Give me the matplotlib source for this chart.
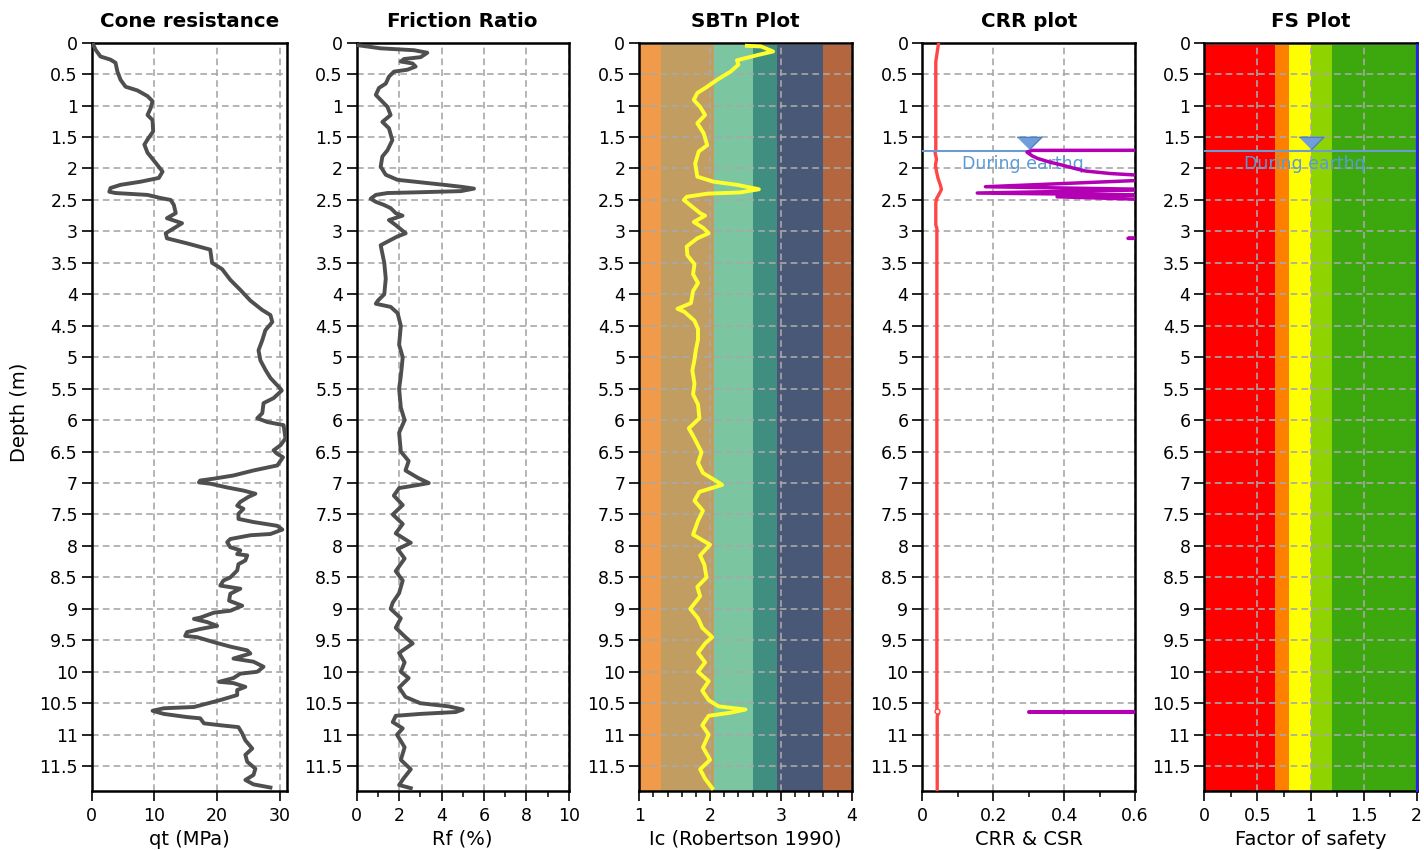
import numpy as np
import matplotlib
matplotlib.use('Agg')
import matplotlib.pyplot as plt
from matplotlib.ticker import MultipleLocator, FuncFormatter

# ---------------- data ----------------
qt_depth = [0.00, 0.11, 0.22, 0.27, 0.32, 0.46, 0.59, 0.70, 0.76, 0.85,
            0.93, 1.04, 1.15, 1.23, 1.41, 1.54, 1.62, 1.75, 1.91, 2.05,
            2.15, 2.21, 2.26, 2.31, 2.37, 2.39, 2.42, 2.47, 2.50, 2.58,
            2.71, 2.79, 2.87, 2.92, 3.03, 3.11, 3.19, 3.29, 3.50, 3.60,
            3.77, 3.93, 4.10, 4.25, 4.33, 4.44, 4.57, 4.73, 4.89, 5.05,
            5.20, 5.33, 5.49, 5.53, 5.65, 5.73, 5.89, 5.97, 6.03, 6.08,
            6.29, 6.40, 6.48, 6.53, 6.59, 6.72, 6.80, 6.88, 6.93, 6.96,
            6.99, 7.01, 7.07, 7.12, 7.17, 7.22, 7.30, 7.36, 7.41, 7.49,
            7.57, 7.62, 7.68, 7.74, 7.81, 7.83, 7.89, 7.94, 8.02, 8.07,
            8.13, 8.15, 8.23, 8.29, 8.39, 8.50, 8.55, 8.63, 8.68, 8.76,
            8.87, 8.95, 9.03, 9.06, 9.14, 9.16, 9.21, 9.27, 9.32, 9.37,
            9.43, 9.45, 9.53, 9.60, 9.66, 9.71, 9.79, 9.84, 9.92, 10.00,
            10.03, 10.10, 10.16, 10.18, 10.24, 10.29, 10.37, 10.45, 10.56, 10.58,
            10.62, 10.67, 10.72, 10.74, 10.82, 10.85, 10.88, 10.98, 11.09, 11.22,
            11.32, 11.43, 11.54, 11.64, 11.72, 11.79, 11.84]
qt_mpa = [0.1, 0.6, 1.4, 3.0, 3.8, 4.1, 4.6, 5.4, 7.3, 8.9,
          9.7, 9.4, 8.9, 9.7, 9.8, 8.9, 8.4, 8.9, 10.2, 11.3,
          10.7, 7.8, 4.6, 3.0, 2.8, 3.8, 8.9, 11.0, 12.6, 13.1,
          13.4, 12.0, 14.4, 13.6, 11.8, 12.0, 15.2, 18.9, 19.2, 20.8,
          22.1, 23.7, 25.3, 27.2, 28.5, 28.8, 27.7, 27.2, 26.6, 26.9,
          27.7, 28.5, 30.0, 30.3, 29.0, 27.4, 27.2, 26.4, 28.0, 30.6,
          30.9, 30.1, 29.0, 29.5, 30.5, 29.6, 25.8, 22.6, 19.5, 17.3,
          17.1, 18.9, 21.6, 24.2, 26.1, 25.0, 23.7, 23.2, 24.2, 23.4,
          23.4, 25.8, 29.6, 30.4, 28.5, 25.3, 22.1, 21.6, 22.1, 23.7,
          23.2, 24.8, 24.5, 23.4, 23.2, 22.1, 21.0, 20.5, 23.7, 22.1,
          21.9, 24.0, 22.1, 19.5, 17.3, 16.3, 18.4, 20.0, 17.3, 15.2,
          14.9, 16.8, 19.5, 22.1, 24.8, 25.3, 22.6, 25.8, 27.4, 26.4,
          23.7, 22.6, 20.3, 22.6, 24.5, 23.2, 23.2, 20.5, 16.3, 11.5,
          9.7, 11.5, 15.2, 17.3, 17.9, 20.5, 23.4, 24.0, 24.5, 25.6,
          24.5, 24.8, 26.1, 25.8, 24.5, 25.8, 28.5]

rf_depth = [0.04, 0.09, 0.12, 0.16, 0.23, 0.26, 0.30, 0.33, 0.38, 0.43,
            0.46, 0.54, 0.65, 0.72, 0.83, 0.91, 1.02, 1.15, 1.26, 1.36,
            1.55, 1.71, 1.81, 1.97, 2.10, 2.18, 2.22, 2.26, 2.29, 2.32,
            2.36, 2.38, 2.39, 2.42, 2.48, 2.53, 2.58, 2.63, 2.71, 2.75,
            2.82, 2.90, 3.03, 3.08, 3.22, 3.50, 3.75, 4.00, 4.10, 4.15,
            4.20, 4.30, 4.50, 4.80, 5.00, 5.30, 5.50, 5.80, 6.00, 6.20,
            6.50, 6.65, 6.80, 6.92, 7.00, 7.03, 7.08, 7.20, 7.35, 7.50,
            7.65, 7.80, 7.95, 8.05, 8.20, 8.40, 8.55, 8.75, 8.90, 9.00,
            9.15, 9.30, 9.45, 9.55, 9.70, 9.85, 10.00, 10.10, 10.25, 10.40,
            10.50, 10.55, 10.60, 10.64, 10.67, 10.70, 10.80, 10.90, 11.00, 11.20,
            11.40, 11.55, 11.70, 11.80, 11.85]
rf_pct = [0.05, 1.13, 2.70, 3.33, 3.02, 2.23, 2.08, 2.63, 2.78, 2.39,
          1.76, 1.52, 1.37, 1.05, 0.90, 1.13, 1.45, 1.60, 1.21, 1.52,
          1.68, 1.45, 1.21, 1.13, 1.37, 1.92, 3.02, 4.12, 4.91, 5.53,
          4.91, 2.70, 1.45, 0.90, 0.66, 0.90, 1.29, 1.60, 1.84, 2.16,
          1.52, 1.84, 2.31, 1.92, 1.13, 1.30, 1.37, 1.30, 1.00, 0.90,
          1.60, 1.93, 2.08, 2.00, 2.17, 2.08, 2.00, 2.08, 2.26, 2.00,
          2.08, 2.45, 2.30, 2.90, 3.40, 2.90, 2.00, 1.75, 2.17, 1.70,
          2.17, 1.84, 2.55, 1.93, 2.26, 1.84, 2.17, 2.00, 1.70, 1.60,
          2.08, 1.84, 2.30, 2.64, 2.00, 2.26, 2.08, 2.45, 2.00, 2.30,
          3.00, 4.34, 5.00, 4.67, 3.00, 1.84, 1.70, 2.17, 1.90, 2.26,
          2.08, 2.55, 2.20, 2.00, 2.55]

ic_depth = [0.05, 0.06, 0.14, 0.20, 0.28, 0.35, 0.46, 0.59, 0.70, 0.80,
            0.91, 1.02, 1.15, 1.28, 1.44, 1.63, 1.73, 1.92, 2.13, 2.21,
            2.26, 2.33, 2.38, 2.40, 2.45, 2.50, 2.61, 2.71, 2.75, 2.85,
            2.95, 3.03, 3.11, 3.24, 3.38, 3.52, 3.68, 3.82, 3.95, 4.14,
            4.23, 4.28, 4.42, 4.55, 4.72, 4.88, 5.04, 5.21, 5.42, 5.59,
            5.75, 5.97, 6.13, 6.29, 6.51, 6.68, 6.84, 6.97, 7.03, 7.14,
            7.28, 7.44, 7.60, 7.82, 7.98, 8.15, 8.30, 8.50, 8.65, 8.80,
            9.00, 9.15, 9.30, 9.45, 9.55, 9.70, 9.85, 10.00, 10.15, 10.30,
            10.45, 10.55, 10.60, 10.65, 10.70, 10.85, 11.00, 11.20, 11.40, 11.55,
            11.70, 11.85]
ic_value = [2.52, 2.72, 2.89, 2.66, 2.38, 2.40, 2.29, 2.10, 1.96, 1.82,
            1.77, 1.86, 1.93, 1.82, 1.91, 1.96, 1.84, 1.79, 1.82, 2.05,
            2.38, 2.69, 2.43, 1.96, 1.67, 1.63, 1.75, 1.86, 1.93, 1.77,
            1.91, 1.98, 1.82, 1.67, 1.68, 1.78, 1.76, 1.83, 1.76, 1.73,
            1.54, 1.64, 1.78, 1.83, 1.83, 1.80, 1.78, 1.75, 1.78, 1.76,
            1.83, 1.85, 1.70, 1.78, 1.88, 1.83, 1.90, 2.09, 2.17, 1.85,
            1.78, 1.90, 1.83, 1.76, 2.00, 1.86, 1.92, 1.95, 1.82, 1.86,
            1.72, 1.83, 1.89, 2.03, 1.93, 1.83, 1.93, 1.83, 1.98, 1.89,
            1.98, 2.12, 2.50, 2.29, 1.98, 1.89, 1.98, 1.90, 2.00, 1.86,
            1.93, 2.03]

# Robertson (1990) SBTn zone limits and colours
sbt_limits = [1.0, 1.31, 2.05, 2.6, 2.95, 3.6, 4.0]
sbt_colors = ['#F09A4A', '#C19D62', '#7BC5A0', '#3F8E80', '#4A5877', '#B4673F']

# CSR (red) and CRR (magenta)
csr_depth = [0.00, 0.30, 1.70, 1.75, 1.85, 1.95, 2.05, 2.15, 2.25, 2.33,
             2.40, 2.48, 2.55, 2.90, 2.95, 10.60, 10.66, 10.70, 11.89]
csr_value = [0.046, 0.038, 0.038, 0.036, 0.040, 0.037, 0.040, 0.044, 0.050, 0.054,
             0.048, 0.040, 0.038, 0.038, 0.041, 0.041, 0.046, 0.042, 0.042]
crr_depth = [1.700, 1.712, 1.74, 1.76, 1.80, 1.84, 1.90, 1.94, 2.00, 2.04,
             2.08, 2.11, 2.14, 2.19, 2.29, 2.33, 2.34, 2.39, 2.42, 2.45,
             2.49, 2.53, 3.08, 3.11, 3.14, 10.58, 10.64, 10.68, 11.89]
crr_value = [3.0, 0.31, 0.295, 0.30, 0.31, 0.325, 0.36, 0.39, 0.43, 0.46,
             0.53, 0.62, 0.70, 0.61, 0.178, 0.62, 0.63, 0.155, 0.62, 0.38,
             0.62, 3.0, 3.0, 0.58, 3.0, 3.0, 0.30, 3.0, 3.0]

# Factor of safety zones and (capped) FS curve
fs_limits = [0.0, 0.67, 0.8, 1.0, 1.2, 2.0]
fs_colors = ['#FF0000', '#FF8000', '#FFFF00', '#8FD400', '#3CA80E']
fs_depth = [0.04, 11.89]
fs_value = [2.0, 2.0]

water_depth = 1.72
band_top = 0.04
depth_max = 11.89

# ---------------- figure ----------------
plt.rcParams['font.family'] = ['DejaVu Sans']
fig = plt.figure(figsize=(14.24, 8.5), dpi=100)

bottom, height = 0.0698, 0.8800
lefts = [0.0644, 0.2505, 0.4489, 0.6477, 0.8457]
widths = [0.1374, 0.1489, 0.1492, 0.1494, 0.1492]
axes = [fig.add_axes([l, bottom, w, height]) for l, w in zip(lefts, widths)]

grid_kw = dict(color='#A8A8A8', linestyle=(0, (4, 2.5)), linewidth=1.2)
fmt = FuncFormatter(lambda v, p: f'{v:g}')


def style(ax, title, xlabel, xlim, major, minor=None):
    ax.set_ylim(depth_max, 0)
    ax.set_xlim(*xlim)
    ax.yaxis.set_major_locator(MultipleLocator(0.5))
    ax.yaxis.set_major_formatter(fmt)
    ax.xaxis.set_major_locator(MultipleLocator(major))
    if minor:
        ax.xaxis.set_minor_locator(MultipleLocator(minor))
    ax.xaxis.set_major_formatter(fmt)
    ax.grid(True, which='major', **grid_kw)
    ax.tick_params(which='major', direction='out', length=7, width=1.2,
                   labelsize=12.5, pad=3)
    ax.tick_params(axis='x', which='major', pad=5)
    ax.tick_params(which='minor', direction='out', length=4, width=1.1)
    for s in ax.spines.values():
        s.set_linewidth(1.8)
        s.set_color('black')
    ax.set_title(title, fontsize=14.3, fontweight='bold', pad=11)
    ax.set_xlabel(xlabel, fontsize=14, labelpad=3)


ax1, ax2, ax3, ax4, ax5 = axes

# Cone resistance
ax1.plot(qt_mpa, qt_depth, color='#4F4F4F', lw=2.8, zorder=3)
style(ax1, 'Cone resistance', 'qt (MPa)', (0, 31.2), 10)

# Friction ratio
ax2.plot(rf_pct, rf_depth, color='#4F4F4F', lw=2.8, zorder=3)
style(ax2, 'Friction Ratio', 'Rf (%)', (0, 10), 2, 1)

# SBTn
for lo, hi, c in zip(sbt_limits[:-1], sbt_limits[1:], sbt_colors):
    ax3.fill_betweenx([band_top, depth_max], lo, hi, color=c, linewidth=0, zorder=1)
ax3.plot(ic_value, ic_depth, color='#FFFF2E', lw=2.8, zorder=3)
style(ax3, 'SBTn Plot', 'Ic (Robertson 1990)', (1, 4), 1, 0.2)

# CRR
ax4.plot(csr_value, csr_depth, color='#FF4545', lw=2.4, zorder=3)
ax4.plot([0.042], [10.63], 'o', ms=3.5, mfc='white', mec='#FF4545', mew=1, zorder=4)
ax4.plot(crr_value, crr_depth, color='#B400B4', lw=2.5, zorder=4)
style(ax4, 'CRR plot', 'CRR & CSR', (0, 0.6), 0.2, 0.1)

# FS
for lo, hi, c in zip(fs_limits[:-1], fs_limits[1:], fs_colors):
    ax5.fill_betweenx([band_top, depth_max], lo, hi, color=c, linewidth=0, zorder=1)
ax5.plot(fs_value, fs_depth, color='#2020FF', lw=1.6, zorder=4, clip_on=False)
style(ax5, 'FS Plot', 'Factor of safety', (0, 2), 0.5, 0.25)

# Water table markers
tri = [(-1, 0.5), (1, 0.5), (0, -0.5)]
for ax, xm in ((ax4, 0.30), (ax5, 1.0)):
    ax.axhline(water_depth, color='#6C9BD2', lw=1.5, zorder=3)
    ax.plot([xm], [1.595], marker=tri, ms=17.8, mfc='#6F9FDA', mec='#4F80C0',
            mew=1, ls='none', zorder=5)
for ax, xt in ((ax4, 0.29), (ax5, 0.97)):
    ax.text(xt, 1.93, 'During earthq.', color='#5B9BD5', fontsize=12.5,
            ha='center', va='center', zorder=3)

fig.text(20 / 1424, 1 - 412 / 850, 'Depth (m)', rotation=90, fontsize=14,
         ha='center', va='center')

fig.savefig('out.png', dpi=100)
